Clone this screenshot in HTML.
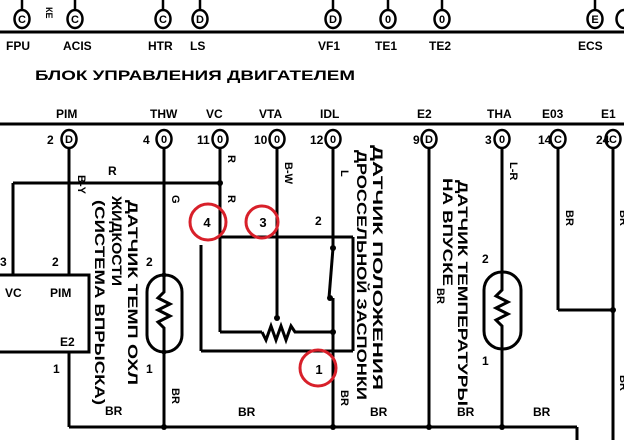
<!DOCTYPE html>
<html><head><meta charset="utf-8"><style>
html,body{margin:0;padding:0;background:#fff;}
svg{display:block;}
text{font-family:"Liberation Sans","DejaVu Sans",sans-serif;font-weight:bold;fill:#000;}
</style></head><body>
<svg width="624" height="440" viewBox="0 0 624 440" xmlns="http://www.w3.org/2000/svg">
<g stroke="#000" stroke-width="3" fill="none">
<line x1="0" y1="32" x2="624" y2="32"/>
<line x1="0" y1="124" x2="624" y2="124"/>
<g stroke-width="2.5">
<line x1="22" y1="0" x2="22" y2="10"/><line x1="75" y1="0" x2="75" y2="10"/>
<line x1="163" y1="0" x2="163" y2="10"/><line x1="200" y1="0" x2="200" y2="10"/>
<line x1="333" y1="0" x2="333" y2="10"/><line x1="388" y1="0" x2="388" y2="10"/>
<line x1="442" y1="0" x2="442" y2="10"/><line x1="595" y1="0" x2="595" y2="10"/>
</g>
<g fill="#fff" stroke-width="2.5">
<ellipse cx="22" cy="19" rx="7.5" ry="9"/><ellipse cx="75" cy="19" rx="7.5" ry="9"/>
<ellipse cx="163" cy="19" rx="7.5" ry="9"/><ellipse cx="200" cy="19" rx="7.5" ry="9"/>
<ellipse cx="333" cy="19" rx="7.5" ry="9"/><ellipse cx="388" cy="19" rx="7.5" ry="9"/>
<ellipse cx="442" cy="19" rx="7.5" ry="9"/><ellipse cx="595" cy="19" rx="7.5" ry="9"/>
<ellipse cx="624" cy="19" rx="7.5" ry="9"/>
</g>
<line x1="69" y1="148" x2="69" y2="275"/>
<line x1="13" y1="183" x2="220" y2="183"/>
<line x1="13" y1="183" x2="13" y2="275"/>
<rect x="-5" y="275" width="94" height="77"/>
<line x1="69" y1="352" x2="69" y2="427"/>
<line x1="69" y1="427" x2="577" y2="427"/>
<line x1="577" y1="427" x2="577" y2="440"/>
<line x1="164" y1="148" x2="164" y2="427"/>
<line x1="220" y1="148" x2="220" y2="332"/>
<line x1="220" y1="332" x2="262" y2="332"/>
<polyline points="262,332 266,340 271,326 276,340 281,326 286,340 291,326 295,332 333,332"/>
<line x1="277" y1="148" x2="277" y2="318"/>
<line x1="333" y1="148" x2="333" y2="248"/>
<line x1="333" y1="248" x2="329" y2="298"/>
<line x1="333" y1="298" x2="333" y2="427"/>
<line x1="220" y1="237" x2="353" y2="237"/>
<line x1="353" y1="237" x2="353" y2="351"/>
<line x1="201" y1="245" x2="201" y2="351"/>
<line x1="201" y1="351" x2="353" y2="351"/>
<line x1="429" y1="148" x2="429" y2="427"/>
<line x1="502" y1="148" x2="502" y2="427"/>
<line x1="558" y1="148" x2="558" y2="310"/>
<line x1="558" y1="310" x2="613" y2="310"/>
<line x1="613" y1="148" x2="613" y2="440"/>
<rect x="147" y="275" width="35" height="77" rx="17" fill="#fff"/>
<polyline points="164,275 164,292 158,298 170,304 158,310 170,316 158,322 164,328 164,352"/>
<rect x="484" y="272" width="37" height="77" rx="18" fill="#fff"/>
<polyline points="502,272 502,290 496,296 508,302 496,308 508,314 496,320 502,326 502,349"/>
<g fill="#fff" stroke-width="2.5">
<ellipse cx="69" cy="139" rx="7.5" ry="9"/><ellipse cx="164" cy="139" rx="7.5" ry="9"/>
<ellipse cx="220" cy="139" rx="7.5" ry="9"/><ellipse cx="277" cy="139" rx="7.5" ry="9"/>
<ellipse cx="333" cy="139" rx="7.5" ry="9"/><ellipse cx="429" cy="139" rx="7.5" ry="9"/>
<ellipse cx="502" cy="139" rx="7.5" ry="9"/><ellipse cx="558" cy="139" rx="7.5" ry="9"/>
<ellipse cx="613" cy="139" rx="7.5" ry="9"/>
</g>
</g>
<g fill="#000">
<circle cx="220" cy="183" r="3"/><circle cx="277" cy="318" r="3"/>
<circle cx="333" cy="248" r="3"/><circle cx="330" cy="298" r="3"/><circle cx="333" cy="332" r="3"/>
<circle cx="164" cy="427" r="3"/><circle cx="333" cy="427" r="3"/><circle cx="429" cy="427" r="3"/>
<circle cx="502" cy="427" r="3"/><circle cx="613" cy="310" r="3"/>
<circle cx="164" cy="275" r="2.5"/><circle cx="164" cy="352" r="2.5"/>
</g>
<g font-size="11" text-anchor="middle">
<text x="22" y="23">C</text><text x="75" y="23">C</text><text x="163" y="23">C</text><text x="200" y="23">D</text>
<text x="333" y="23">D</text><text x="388" y="23">0</text><text x="442" y="23">0</text><text x="595" y="23">E</text>
<text x="69" y="143">D</text><text x="164" y="143">0</text><text x="220" y="143">0</text><text x="277" y="143">0</text>
<text x="333" y="143">0</text><text x="429" y="143">D</text><text x="502" y="143">0</text><text x="558" y="143">C</text><text x="613" y="143">C</text>
</g>
<text x="45" y="16" font-size="9" transform="rotate(90 50 12)">КЕ</text>
<g font-size="12">
<text x="6" y="50">FPU</text><text x="63" y="50">ACIS</text><text x="148" y="50">HTR</text><text x="190" y="50">LS</text>
<text x="318" y="50">VF1</text><text x="375" y="50">TE1</text><text x="429" y="50">TE2</text><text x="578" y="50">ECS</text>
<text x="35" y="80" font-size="14" textLength="320" lengthAdjust="spacingAndGlyphs">БЛОК УПРАВЛЕНИЯ ДВИГАТЕЛЕМ</text>
<text x="56" y="118">PIM</text><text x="150" y="118">THW</text><text x="206" y="118">VC</text><text x="259" y="118">VTA</text>
<text x="320" y="118">IDL</text><text x="417" y="118">E2</text><text x="487" y="118">THA</text><text x="542" y="118">E03</text><text x="601" y="118">E1</text>
<text x="47" y="144">2</text><text x="143" y="144">4</text><text x="197" y="144">11</text><text x="254" y="144">10</text>
<text x="310" y="144">12</text><text x="413" y="144">9</text><text x="485" y="144">3</text><text x="538" y="144">14</text><text x="596" y="144">24</text>
<text x="108" y="175">R</text><text x="0" y="266">3</text><text x="52" y="266">2</text>
<text x="5" y="297">VC</text><text x="50" y="297">PIM</text><text x="60" y="346">E2</text><text x="53" y="373">1</text>
<text x="146" y="266">2</text><text x="146" y="373">1</text><text x="315" y="225">2</text>
<text x="482" y="263">2</text><text x="482" y="365">1</text>
<text x="105" y="415">BR</text><text x="238" y="416">BR</text><text x="370" y="416">BR</text><text x="457" y="416">BR</text><text x="533" y="416">BR</text>
</g>
<g font-size="11">
<text transform="translate(78 175) rotate(90)">B-Y</text>
<text transform="translate(172 195) rotate(90)">G</text>
<text transform="translate(228 155) rotate(90)">R</text>
<text transform="translate(228 195) rotate(90)">R</text>
<text transform="translate(285 162) rotate(90)">B-W</text>
<text transform="translate(341 170) rotate(90)">L</text>
<text transform="translate(510 162) rotate(90)">L-R</text>
<text transform="translate(172 388) rotate(90)">BR</text>
<text transform="translate(341 390) rotate(90)">BR</text>
<text transform="translate(437 288) rotate(90)">BR</text>
<text transform="translate(566 210) rotate(90)">BR</text>
<text transform="translate(620 210) rotate(90)">BR</text>
<text transform="translate(620 375) rotate(90)">BR</text>
</g>
<g font-size="14">
<text transform="translate(128 200) rotate(90)" textLength="185" lengthAdjust="spacingAndGlyphs">ДАТЧИК ТЕМП ОХЛ</text>
<text transform="translate(112 196) rotate(90)" textLength="90" lengthAdjust="spacingAndGlyphs">ЖИДКОСТИ</text>
<text transform="translate(95 200) rotate(90)" textLength="205" lengthAdjust="spacingAndGlyphs">(СИСТЕМА ВПРЫСКА)</text>
<text transform="translate(373 145) rotate(90)" textLength="245" lengthAdjust="spacingAndGlyphs">ДАТЧИК ПОЛОЖЕНИЯ</text>
<text transform="translate(357 150) rotate(90)" textLength="250" lengthAdjust="spacingAndGlyphs">ДРОССЕЛЬНОЙ ЗАСПОНКИ</text>
<text transform="translate(458 180) rotate(90)" textLength="226" lengthAdjust="spacingAndGlyphs">ДАТЧИК ТЕМПЕРАТУРЫ</text>
<text transform="translate(443 178) rotate(90)" textLength="108" lengthAdjust="spacingAndGlyphs">НА ВПУСКЕ</text>
</g>
<g stroke="#d8202a" stroke-width="3" fill="none">
<circle cx="208" cy="222" r="18"/><circle cx="262" cy="222" r="16"/><circle cx="318" cy="368" r="18"/>
</g>
<g font-size="13" text-anchor="middle">
<text x="207" y="227">4</text><text x="263" y="227">3</text><text x="319" y="374">1</text>
</g>
</svg>
</body></html>
